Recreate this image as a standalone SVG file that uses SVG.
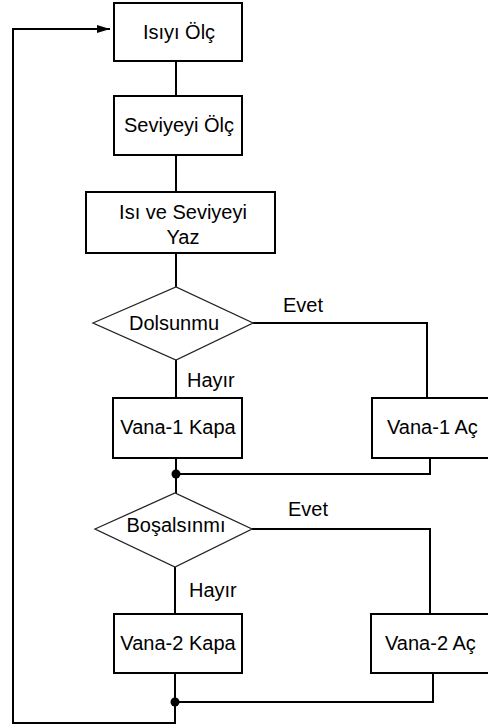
<svg xmlns="http://www.w3.org/2000/svg" width="488" height="728" viewBox="0 0 488 728">
<style>
.box{fill:#fff;stroke:#000;stroke-width:2}
.dia{fill:#fff;stroke:#222;stroke-width:1.3}
.ln{fill:none;stroke:#000;stroke-width:2}
text{font-family:"Liberation Sans",Arial,sans-serif;font-size:20px;fill:#000}
.c{text-anchor:middle}
</style>
<defs>
<marker id="arr" viewBox="0 0 13 8" refX="13" refY="4" markerWidth="13" markerHeight="8" markerUnits="userSpaceOnUse" orient="auto">
<path d="M0,0 L13,4 L0,8 Z" fill="#000"/>
</marker>
</defs>
<g id="connectors">
<path class="ln" d="M176,61 V96"/>
<path class="ln" d="M176,155 V192"/>
<path class="ln" d="M176,253 V287"/>
<path class="ln" d="M253,323 H427 V398"/>
<path class="ln" d="M176,360 V398"/>
<path class="ln" d="M176,458 V493"/>
<path class="ln" d="M430,458 V474 H176"/>
<circle cx="176" cy="474" r="4.5" fill="#000"/>
<path class="ln" d="M252,529 H430 V614"/>
<path class="ln" d="M175,567 V614"/>
<path class="ln" d="M433,673 V702 H175"/>
<circle cx="175" cy="702" r="4.5" fill="#000"/>
<path class="ln" d="M175,673 V723 H13 V29 H110" marker-end="url(#arr)"/>
<text x="283" y="312">Evet</text>
<text x="187" y="387">Hayır</text>
<text x="288" y="516">Evet</text>
<text x="189" y="597">Hayır</text>
</g>
<g id="n1"><rect class="box" x="114" y="3" width="128" height="58"/><text class="c" x="179" y="39">Isıyı Ölç</text></g>
<g id="n2"><rect class="box" x="114" y="96" width="128" height="59"/><text class="c" x="179" y="132">Seviyeyi Ölç</text></g>
<g id="n3"><rect class="box" x="86" y="192" width="189" height="61"/><text class="c" x="183" y="219">Isı ve Seviyeyi</text><text class="c" x="183" y="244">Yaz</text></g>
<g id="d1"><path class="dia" d="M93,323 L176,287 L253,323 L176,360 Z"/><text class="c" x="174" y="330">Dolsunmu</text></g>
<g id="n4"><rect class="box" x="113" y="398" width="129" height="60"/><text class="c" x="178" y="434">Vana-1 Kapa</text></g>
<g id="n5"><rect class="box" x="372" y="398" width="128" height="60"/><text x="387" y="434">Vana-1 Aç</text></g>
<g id="d2"><path class="dia" d="M95,529 L175,493 L252,529 L175,567 Z"/><text class="c" x="176" y="532">Boşalsınmı</text></g>
<g id="n6"><rect class="box" x="114" y="614" width="128" height="59"/><text class="c" x="178" y="650">Vana-2 Kapa</text></g>
<g id="n7"><rect class="box" x="371" y="614" width="128" height="59"/><text x="385" y="650">Vana-2 Aç</text></g>
</svg>
